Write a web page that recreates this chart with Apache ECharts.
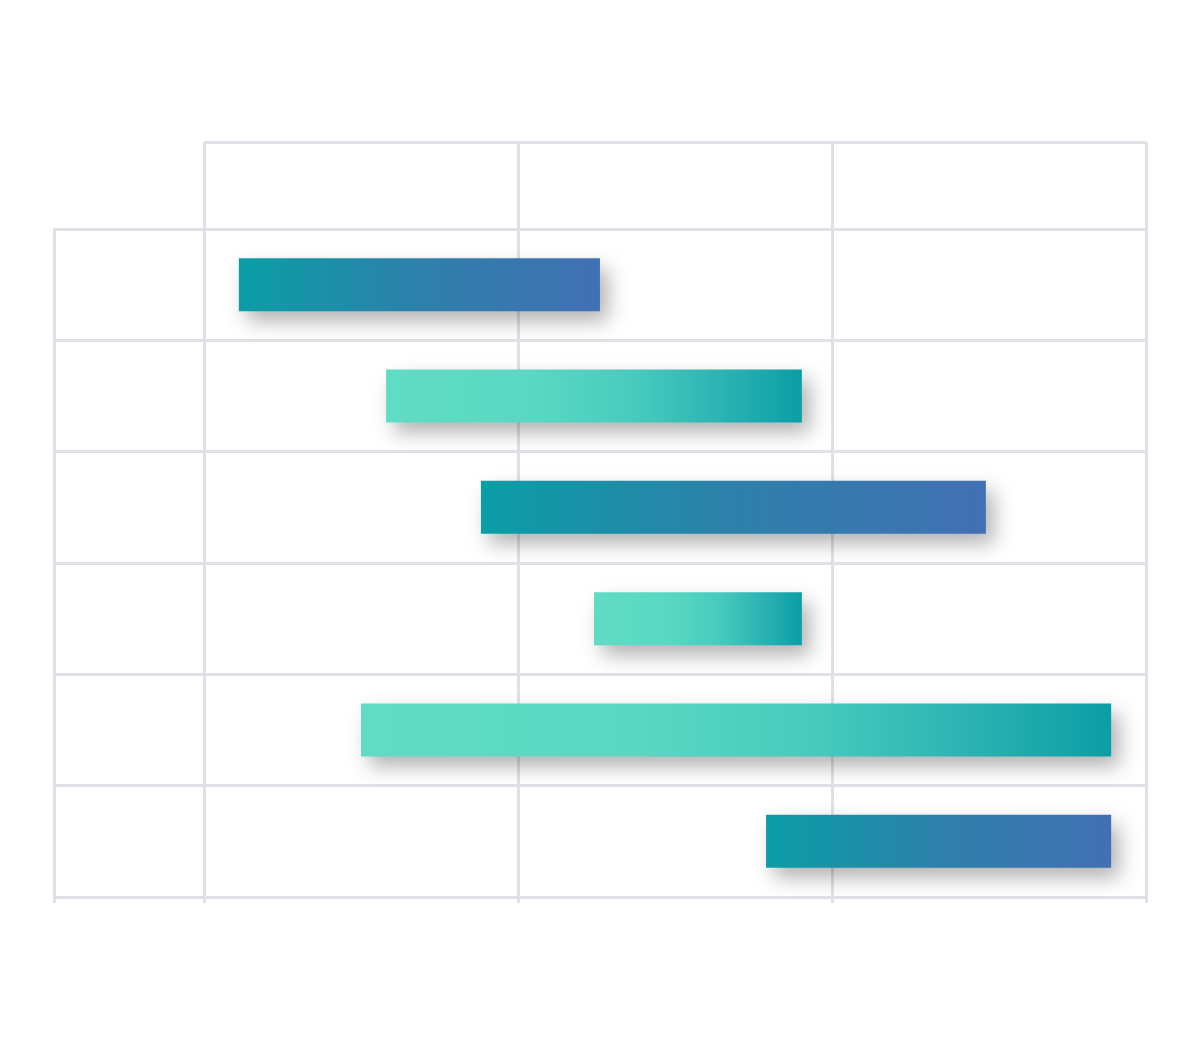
<!DOCTYPE html>
<html>
<head>
<meta charset="utf-8">
<script src="https://cdn.jsdelivr.net/npm/echarts@6/dist/echarts.min.js"></script>
<style>html,body{margin:0;padding:0;background:#fff}#c{width:1201px;height:1045px}</style>
</head>
<body>
<div id="c"></div>
<script>
var tasks = ['', '', '', '', '', ''];
var starts = [0.111, 0.580, 0.882, 1.242, 0.500, 1.790];
var ends = [1.261, 1.904, 2.490, 1.904, 2.889, 2.889];
var styles = ['dark', 'light', 'dark', 'light', 'light', 'dark'];

var lineColor = '#e0e0e6';
function grad(kind) {
  var stops = kind === 'dark'
    ? [{offset: 0, color: '#0a9ea6'}, {offset: 0.5, color: '#2d80aa'}, {offset: 1, color: '#4270b5'}]
    : [{offset: 0, color: '#60dcc5'}, {offset: 0.35, color: '#5ad8c3'}, {offset: 0.6, color: '#48cabd'},
       {offset: 0.8, color: '#2db4b3'}, {offset: 1, color: '#0a9ea6'}];
  return new echarts.graphic.LinearGradient(0, 0, 1, 0, stops);
}

var chart = echarts.init(document.getElementById('c'));
var splitLine = {show: true, lineStyle: {color: lineColor, width: 3}};
chart.setOption({
  backgroundColor: '#ffffff',
  animation: false,
  grid: [
    {left: 204, top: 229, width: 942, height: 668},
    {left: 54, top: 229, width: 150, height: 668},
    {left: 204, top: 142, width: 942, height: 87}
  ],
  xAxis: [
    {gridIndex: 0, type: 'value', min: 0, max: 3, interval: 1,
     splitLine: splitLine, axisLine: {show: false},
     axisTick: {show: true, length: 6, lineStyle: {color: lineColor, width: 3}},
     axisLabel: {show: false}},
    {gridIndex: 1, type: 'value', min: 0, max: 1, interval: 1,
     splitLine: {show: false}, axisLine: {show: false},
     axisTick: {show: true, length: 6, lineStyle: {color: lineColor, width: 3}},
     axisLabel: {show: false}},
    {gridIndex: 2, type: 'value', min: 0, max: 3, interval: 1,
     splitLine: splitLine, axisLine: {show: false}, axisTick: {show: false},
     axisLabel: {show: false}}
  ],
  yAxis: [
    {gridIndex: 0, type: 'category', data: tasks, inverse: true,
     splitLine: splitLine, axisLine: {show: false}, axisTick: {show: false}, axisLabel: {show: false}},
    {gridIndex: 1, type: 'category', data: tasks, inverse: true,
     splitLine: splitLine, axisLine: {show: true, lineStyle: {color: lineColor, width: 3}},
     axisTick: {show: false}, axisLabel: {show: false}},
    {gridIndex: 2, type: 'category', data: [''], inverse: true,
     splitLine: splitLine, axisLine: {show: false}, axisTick: {show: false}, axisLabel: {show: false}}
  ],
  series: [
    {type: 'bar', xAxisIndex: 0, yAxisIndex: 0, stack: 'g', barWidth: 53,
     itemStyle: {color: 'transparent'}, silent: true,
     data: starts},
    {type: 'bar', xAxisIndex: 0, yAxisIndex: 0, stack: 'g', barWidth: 53,
     data: ends.map(function (e, i) {
       return {value: +(e - starts[i]).toFixed(3), itemStyle: {
         color: grad(styles[i]),
         shadowColor: 'rgba(0,0,0,0.3)', shadowBlur: 20,
         shadowOffsetX: 8, shadowOffsetY: 10
       }};
     })}
  ]
});
</script>
</body>
</html>
